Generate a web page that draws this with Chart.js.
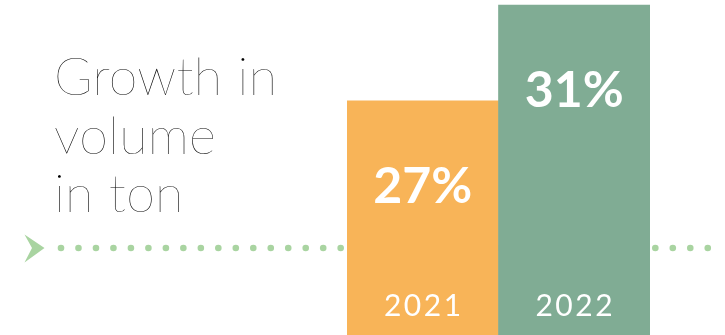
<!DOCTYPE html>
<html>
<head>
<meta charset="utf-8">
<script src="https://cdn.jsdelivr.net/npm/chart.js@4"></script>
<style>
  html, body { margin: 0; padding: 0; background: #fff; }
  #wrap { position: relative; width: 725px; height: 335px; overflow: hidden; }
  #title {
    position: absolute; left: 54px; top: 46px;
    font-family: Lato, "Open Sans", sans-serif; font-weight: 100;
    font-size: 52px; line-height: 58.5px; color: #000; margin: 0;
    letter-spacing: 0.3px;
  }
  canvas { position: absolute; left: 0; top: 0; }
</style>
</head>
<body>
<div id="wrap">
  <canvas id="c" width="725" height="335"></canvas>
  <div id="title">Growth in<br>volume<br>in ton</div>
</div>
<script>
const categories = ['2021', '2022'];
const growthValues = [27, 31];
const valueLabels = ['27%', '31%'];
const barColors = ['#F8B458', '#80AC94'];

const dotColor = '#A9D4A1';

const decorPlugin = {
  id: 'decor',
  beforeDatasetsDraw(chart) {
    const ctx = chart.ctx;
    ctx.save();
    ctx.fillStyle = dotColor;
    // arrow head
    ctx.beginPath();
    ctx.moveTo(24.5, 234.5);
    ctx.lineTo(44.5, 248);
    ctx.lineTo(24.5, 262.5);
    ctx.lineTo(32, 248);
    ctx.closePath();
    ctx.fill();
    // dotted line
    for (let k = 0; k < 38; k++) {
      const x = 61 + k * 17.48;
      ctx.beginPath();
      ctx.arc(x, 248, 3.3, 0, Math.PI * 2);
      ctx.fill();
    }
    ctx.restore();
  },
  afterDatasetsDraw(chart) {
    const ctx = chart.ctx;
    const meta = chart.getDatasetMeta(0);
    ctx.save();
    ctx.fillStyle = '#ffffff';
    ctx.textAlign = 'center';
    ctx.textBaseline = 'alphabetic';
    meta.data.forEach((bar, i) => {
      ctx.font = 'bold 50px Lato, "Open Sans", sans-serif';
      ctx.letterSpacing = '0px';
      ctx.fillText(valueLabels[i], bar.x, bar.y + 102);
      ctx.font = '30px Lato, "Open Sans", sans-serif';
      ctx.letterSpacing = '2.5px';
      ctx.fillText(categories[i], bar.x + 1, 316);
    });
    ctx.restore();
  }
};

new Chart(document.getElementById('c'), {
  type: 'bar',
  data: {
    labels: categories,
    datasets: [{
      data: growthValues,
      backgroundColor: barColors,
      borderWidth: 0,
      barPercentage: 1,
      categoryPercentage: 1
    }]
  },
  options: {
    responsive: false,
    animation: false,
    layout: { padding: { left: 347, right: 75, top: 0, bottom: 0 } },
    plugins: { legend: { display: false }, tooltip: { enabled: false }, title: { display: false } },
    scales: {
      x: { display: false },
      y: { display: false, min: 17.21, max: 31.21 }
    }
  },
  plugins: [decorPlugin]
});
</script>
</body>
</html>
